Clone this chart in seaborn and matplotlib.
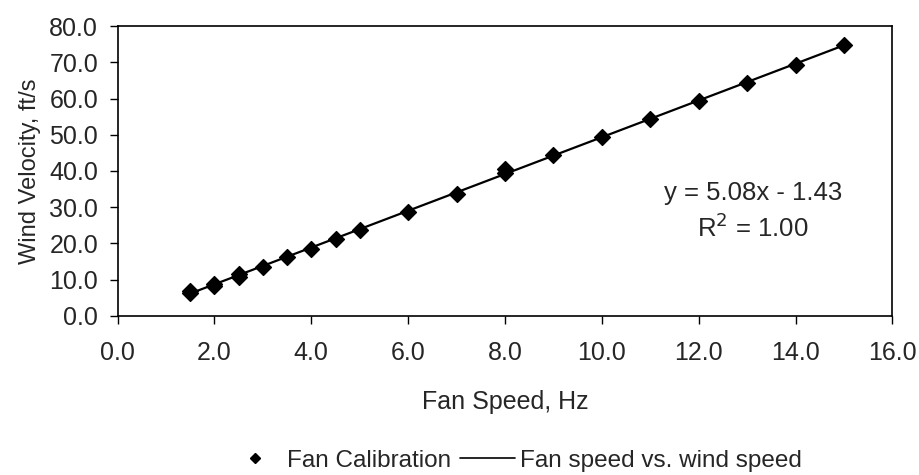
import numpy as np
import pandas as pd
import matplotlib
matplotlib.use("Agg")
import matplotlib.pyplot as plt
import seaborn as sns
from matplotlib.lines import Line2D

fan_speed = [1.5, 1.5, 2.0, 2.0, 2.5, 2.5, 3.0, 3.5, 4.0, 4.5, 5.0, 6.0, 7.0, 8.0, 8.0, 9.0, 10.0, 11.0, 12.0, 13.0, 14.0, 15.0]
wind_velocity = [6.3, 7.0, 8.3, 8.8, 10.8, 11.5, 13.5, 16.3, 18.6, 21.2, 23.7, 28.8, 33.7, 39.5, 40.6, 44.4, 49.3, 54.3, 59.3, 64.3, 69.4, 74.9]
x_ticks = [0.0, 2.0, 4.0, 6.0, 8.0, 10.0, 12.0, 14.0, 16.0]
y_ticks = [0.0, 10.0, 20.0, 30.0, 40.0, 50.0, 60.0, 70.0, 80.0]

df = pd.DataFrame({"Fan Speed, Hz": fan_speed, "Wind Velocity, ft/s": wind_velocity})

sns.set_theme(style="white")
plt.rcParams['font.family'] = ['Liberation Sans', 'DejaVu Sans']

FS = 18

fig = plt.figure(figsize=(9.19, 4.75), dpi=100)
ax = fig.add_axes([0.128, 0.335, 0.843, 0.61])

sns.regplot(data=df, x="Fan Speed, Hz", y="Wind Velocity, ft/s", ax=ax, ci=None,
            truncate=True, marker="D",
            scatter_kws=dict(s=65, color="black", edgecolor="black", alpha=1, zorder=3),
            line_kws=dict(color="black", lw=1.6, zorder=2))

slope, intercept = np.polyfit(fan_speed, wind_velocity, 1)
r = np.corrcoef(fan_speed, wind_velocity)[0, 1]
ax.text(0.82, 0.425, f"y = {slope:.2f}x - {abs(intercept):.2f}", transform=ax.transAxes,
        ha="center", va="center", fontsize=18.5)
ax.text(0.82, 0.305, f"R$^2$ = {r**2:.2f}", transform=ax.transAxes,
        ha="center", va="center", fontsize=18.5)

ax.set_xlim(0, 16)
ax.set_ylim(0, 80)
ax.set_xticks(x_ticks)
ax.set_yticks(y_ticks)
ax.set_xticklabels([f"{v:.1f}" for v in x_ticks], fontsize=FS)
ax.set_yticklabels([f"{v:.1f}" for v in y_ticks], fontsize=FS)
ax.set_xlabel("Fan Speed, Hz", fontsize=FS, labelpad=18)
ax.set_ylabel("Wind Velocity, ft/s", fontsize=17, labelpad=6)
ax.tick_params(axis="both", direction="out", length=6, width=1, color="black", bottom=True, left=True)
ax.tick_params(axis="x", pad=12)
ax.tick_params(axis="y", pad=8)
for s in ax.spines.values():
    s.set_color("black")
    s.set_linewidth(1.2)

handles = [Line2D([], [], marker="D", color="black", linestyle="None", markersize=5.5),
           Line2D([], [], color="black", lw=1.2)]
fig.legend(handles, ["Fan Calibration", "Fan speed vs. wind speed"], loc="center",
           bbox_to_anchor=(0.56, 0.03), ncol=2, frameon=False, fontsize=17.5,
           handlelength=2.26, columnspacing=0.37, handletextpad=0.2)

fig.savefig("out.png", dpi=100, facecolor="white")
